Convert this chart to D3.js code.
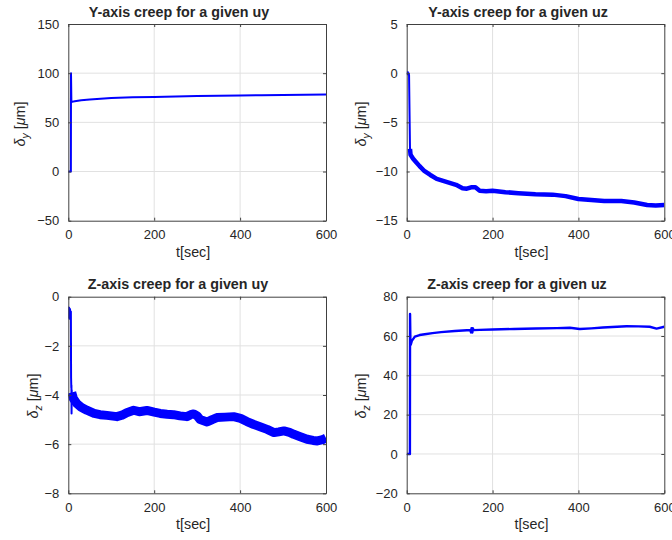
<!DOCTYPE html>
<html>
<head>
<meta charset="utf-8">
<script src="https://cdn.jsdelivr.net/npm/d3@7/dist/d3.min.js"></script>
<style>
  html, body { margin: 0; padding: 0; background: #fff; }
  svg { display: block; }
  text { font-family: "Liberation Sans", Arial, Helvetica, sans-serif; fill: #262626; }
</style>
</head>
<body>
<svg id="chart" width="672" height="540"></svg>
<script>
// ---------------- data ----------------
const titles = [
  "Y-axis creep for a given uy",
  "Y-axis creep for a given uz",
  "Z-axis creep for a given uy",
  "Z-axis creep for a given uz"
];
const xLabel = "t[sec]";
const xTicks = [0, 200, 400, 600];
const yTicksTL = [-50, 0, 50, 100, 150];
const yTicksTR = [-15, -10, -5, 0, 5];
const yTicksBL = [-8, -6, -4, -2, 0];
const yTicksBR = [-20, 0, 20, 40, 60, 80];

// Top-left: Y-axis creep, given uy (thin trace)
const tTL = [0, 6, 6.3, 7.2, 8, 15, 30, 50, 75, 100, 150, 200, 250, 300, 350, 400, 450, 500, 550, 600];
const vTL = [0, 0, 100, 70.3, 70.8, 71.5, 72.5, 73.2, 74.1, 74.8, 75.4, 75.9, 76.4, 76.8, 77.1, 77.4, 77.6, 77.8, 78.0, 78.3];

// Top-right: Y-axis creep, given uz (startup thin + creep band)
const tTRstart = [0, 4.5, 5.5, 7.7];
const vTRstart = [0, 0, -0.2, -7.7];
const tTR = [0, 4.5, 7.7, 9, 15, 20, 30, 40, 55, 70, 85, 100, 115, 130, 140, 150, 160, 170, 185, 200, 230, 260, 300, 340, 370, 400, 430, 460, 500, 530, 560, 580, 600];
const vTR = [0, 0, -7.7, -8.3, -8.7, -8.95, -9.45, -9.9, -10.35, -10.75, -10.95, -11.15, -11.35, -11.7, -11.75, -11.6, -11.6, -11.95, -12.0, -11.95, -12.1, -12.2, -12.3, -12.35, -12.5, -12.8, -12.9, -13.0, -13.0, -13.15, -13.4, -13.45, -13.4];

// Bottom-left: Z-axis creep, given uy (startup thin + creep band)
const tBLstart = [0, 1, 2, 3, 4, 5, 6, 6.5, 7, 7.3, 7.6, 7.9, 8];
const vBLstart = [-0.4, -0.85, -0.45, -0.9, -0.5, -0.85, -0.6, -3.3, -3.7, -3.6, -4.75, -3.8, -3.9];
const tBL = [8, 12, 20, 30, 43, 60, 74, 90, 113, 125, 136, 152, 165, 183, 200, 214, 230, 245, 260, 276, 285, 292, 300, 307, 315, 323, 335, 346, 365, 385, 401, 416, 432, 448, 463, 479, 490, 502, 515, 525, 540, 556, 570, 580, 592, 600];
const vBL = [-3.9, -4.15, -4.35, -4.5, -4.62, -4.75, -4.8, -4.83, -4.88, -4.82, -4.72, -4.62, -4.68, -4.63, -4.7, -4.75, -4.78, -4.8, -4.85, -4.88, -4.8, -4.77, -4.85, -5.0, -5.05, -5.1, -5.0, -4.92, -4.9, -4.88, -4.95, -5.08, -5.2, -5.3, -5.4, -5.53, -5.5, -5.46, -5.52, -5.6, -5.7, -5.8, -5.85, -5.87, -5.82, -5.75];

// Bottom-right: Z-axis creep, given uz (thin trace)
const tBR = [0, 7.5, 7.8, 8.6, 9.3, 12, 19, 30, 42, 60, 80, 112, 140, 148, 150, 151, 153, 154, 156, 170, 200, 250, 300, 350, 380, 403, 430, 457, 490, 512, 540, 566, 582, 600];
const vBR = [0, 0, 71.2, 58, 55.5, 57.5, 59.7, 60.5, 60.9, 61.5, 62.0, 62.55, 62.9, 63.0, 61.8, 64.0, 61.8, 64.0, 63.0, 63.1, 63.3, 63.6, 63.8, 64.0, 64.2, 63.6, 63.9, 64.3, 64.7, 65.0, 64.9, 64.7, 63.8, 64.7];

// ---------------- layout ----------------
const svg = d3.select("#chart");
const lineColor = "#0000ff";

const panels = [
  { box: [68.3, 24, 326, 220.7], yDomain: [-50, 150], yTicks: yTicksTL, title: titles[0], titleX: 179, sub: "y", yLabX: 25, yLabY: 124,
    series: [{ t: tTL, v: vTL, w: 2 }] },
  { box: [406.7, 24, 664.3, 220.7], yDomain: [-15, 5], yTicks: yTicksTR, title: titles[1], titleX: 518, sub: "y", yLabX: 366, yLabY: 124,
    series: [{ t: tTRstart, v: vTRstart, w: 2 }, { t: tTR.slice(2), v: vTR.slice(2), w: 4.5 }, { t: tTR.slice(0, 2), v: vTR.slice(0, 2), w: 4 }] },
  { box: [68.3, 296.7, 326, 493.3], yDomain: [-8, 0], yTicks: yTicksBL, title: titles[2], titleX: 178, sub: "z", yLabX: 38, yLabY: 396,
    series: [{ t: tBLstart, v: vBLstart, w: 2 }, { t: tBL, v: vBL, w: 9 }] },
  { box: [406.7, 296.7, 664.3, 493.3], yDomain: [-20, 80], yTicks: yTicksBR, title: titles[3], titleX: 517, sub: "z", yLabX: 366, yLabY: 396,
    series: [{ t: tBR, v: vBR, w: 2.4 }] }
];

panels.forEach(p => {
  const [x0, y0, x1, y1] = p.box;
  const x = d3.scaleLinear().domain([0, 600]).range([x0, x1]);
  const y = d3.scaleLinear().domain(p.yDomain).range([y1, y0]);
  const g = svg.append("g");

  // grid
  g.append("g").selectAll("line.gx").data(xTicks.slice(1, -1)).join("line")
    .attr("x1", d => x(d)).attr("x2", d => x(d)).attr("y1", y0).attr("y2", y1)
    .attr("stroke", "#e1e1e1").attr("stroke-width", 1);
  g.append("g").selectAll("line.gy").data(p.yTicks.slice(1, -1)).join("line")
    .attr("x1", x0).attr("x2", x1).attr("y1", d => y(d)).attr("y2", d => y(d))
    .attr("stroke", "#e1e1e1").attr("stroke-width", 1);

  // data
  const clipId = "clip" + Math.round(x0) + "_" + Math.round(y0);
  svg.append("clipPath").attr("id", clipId).append("rect")
    .attr("x", x0).attr("y", y0).attr("width", x1 - x0).attr("height", y1 - y0);
  const line = d3.line().x(d => x(d[0])).y(d => y(d[1]));
  const dg = g.append("g").attr("clip-path", `url(#${clipId})`);
  p.series.forEach(s => {
    dg.append("path").datum(d3.zip(s.t, s.v))
      .attr("d", line).attr("fill", "none").attr("stroke", lineColor)
      .attr("stroke-width", s.w).attr("stroke-linejoin", "round");
  });

  // axes (inward ticks), box
  const axB = d3.axisBottom(x).tickValues(xTicks).tickSizeInner(-3).tickSizeOuter(0).tickPadding(9);
  const axL = d3.axisLeft(y).tickValues(p.yTicks).tickSizeInner(-3).tickSizeOuter(0).tickPadding(9);
  const axT = d3.axisTop(x).tickValues(xTicks).tickSizeInner(-3).tickSizeOuter(0).tickFormat("");
  const axR = d3.axisRight(y).tickValues(p.yTicks).tickSizeInner(-3).tickSizeOuter(0).tickFormat("");
  const gb = g.append("g").attr("transform", `translate(0,${y1})`).call(axB);
  const gl = g.append("g").attr("transform", `translate(${x0},0)`).call(axL);
  const gt = g.append("g").attr("transform", `translate(0,${y0})`).call(axT);
  const gr = g.append("g").attr("transform", `translate(${x1},0)`).call(axR);
  [gb, gl, gt, gr].forEach(a => {
    a.select(".domain").attr("stroke", "#404040").attr("stroke-width", 1);
    a.selectAll(".tick line").attr("stroke", "#404040");
    a.selectAll(".tick text").attr("fill", "#262626")
      .style("font-family", '"Liberation Sans", Arial, sans-serif').style("font-size", "13px");
  });
  gb.selectAll(".tick text").attr("dy", "0.71em");

  // title
  g.append("text").attr("x", p.titleX).attr("y", y0 - 7.5)
    .attr("text-anchor", "middle").style("font-size", "14.3px").style("font-weight", "bold")
    .text(p.title);

  // x label
  g.append("text").attr("x", (x0 + x1) / 2 - 4).attr("y", y1 + 36)
    .attr("text-anchor", "middle").style("font-size", "14.3px").text(xLabel);

  // y label δ_y [μm]
  const yl = g.append("text").attr("transform", `translate(${p.yLabX},${p.yLabY}) rotate(-90)`)
    .attr("text-anchor", "middle").style("font-size", "14.3px");
  yl.append("tspan").style("font-style", "italic").text("δ");
  yl.append("tspan").style("font-style", "italic").style("font-size", "10.5px").attr("dy", 3.5).text(p.sub);
  yl.append("tspan").attr("dy", -3.5).text(" [");
  yl.append("tspan").style("font-style", "italic").text("μ");
  yl.append("tspan").text("m]");
});
</script>
</body>
</html>
